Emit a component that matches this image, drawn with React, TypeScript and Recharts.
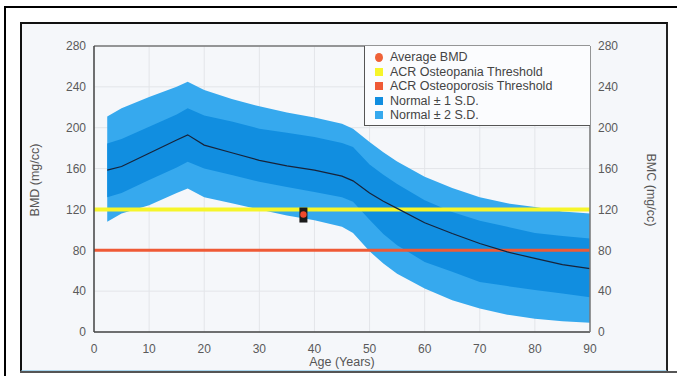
import React from "react";
import { CartesianGrid, ComposedChart, Area, Line, Scatter, XAxis, YAxis, ReferenceLine, Label } from "recharts";

// ages (years) and the reference bands (mg/cc)
const ages = [2.4, 5, 10, 15, 17, 20, 25, 30, 35, 40, 45, 47, 50, 52.5, 55, 60, 65, 70, 75, 80, 85, 90];
const meanBmd = [158.5, 162, 175, 188, 193, 183, 175.5, 168, 162.7, 158.5, 152.6, 148, 136, 128, 121, 107, 96.4, 86.6, 78.4, 72, 66, 62];
const plus1Sd = [184.6, 189, 201, 213, 219, 212, 206, 199, 195, 191, 185, 181, 164, 154, 145, 129, 117.6, 109, 103, 97, 94, 91.5];
const minus1Sd = [132, 136, 148.7, 161, 166.7, 160, 153.6, 147, 142, 137, 132, 127.5, 110, 96, 85, 68.6, 59, 49, 45, 41, 37.6, 34];
const plus2Sd = [211, 219, 230, 240, 245, 237, 228, 221, 215, 210, 204, 199, 186, 176, 167, 152, 141, 132, 126, 122.5, 118, 116];
const minus2Sd = [108, 116, 124, 136, 140.5, 132, 126, 120, 114, 109.5, 103, 97, 79, 67, 57, 42.5, 31, 23, 17, 13, 10.5, 9];

const patientAge = [38];
const patientBmd = [115];

const osteopeniaThreshold = 120;
const osteoporosisThreshold = 80;

const xTicks = [0, 10, 20, 30, 40, 50, 60, 70, 80, 90];
const yTicks = [0, 40, 80, 120, 160, 200, 240, 280];

const legendItems = [
  { name: "Average BMD", color: "#ef6238", round: true },
  { name: "ACR Osteopania Threshold", color: "#f6f52a", round: false },
  { name: "ACR Osteoporosis Threshold", color: "#ef5a36", round: false },
  { name: "Normal \u00b1 1 S.D.", color: "#118ee0", round: false },
  { name: "Normal \u00b1 2 S.D.", color: "#36a9ee", round: false },
];

const rows = ages.map((age, i) => ({
  age,
  mean: meanBmd[i],
  sd1: [minus1Sd[i], plus1Sd[i]],
  sd2: [minus2Sd[i], plus2Sd[i]],
}));
const patient = patientAge.map((age, i) => ({ age, bmd: patientBmd[i] }));

const font = '"Liberation Sans", Arial, sans-serif';
const tickStyle = { fill: "#5a5a5a", fontSize: 12, fontFamily: font };

function PatientMark(props: any) {
  const { cx, cy } = props;
  return (
    <g>
      <rect x={cx - 4} y={cy - 7} width={8} height={15} fill="#1a1a1a" />
      <circle cx={cx} cy={cy} r={3.2} fill="#ef4a2e" />
    </g>
  );
}

function LegendBox() {
  return (
    <div
      style={{
        position: "absolute",
        left: 364,
        top: 46,
        width: 226,
        height: 80,
        borderLeft: "1.5px solid #555",
        borderBottom: "1.5px solid #555",
        background: "#fbfcfe",
        paddingTop: 4,
        boxSizing: "border-box",
        fontFamily: font,
        fontSize: 12.5,
        color: "#444",
      }}
    >
      {legendItems.map((it) => (
        <div key={it.name} style={{ display: "flex", alignItems: "center", height: 14.5, paddingLeft: 10 }}>
          <span
            style={{
              display: "inline-block",
              width: 8,
              height: it.round ? 9 : 8,
              borderRadius: it.round ? "50%" : 0,
              background: it.color,
              marginRight: 7,
            }}
          />
          <span style={{ whiteSpace: "nowrap" }}>{it.name}</span>
        </div>
      ))}
    </div>
  );
}

export default function App() {
  return (
    <div style={{ position: "absolute", left: 0, top: 0, width: 677, height: 376, background: "#fff", overflow: "hidden" }}>
      <div style={{ position: "absolute", left: 4, top: 6, width: 700, height: 400, borderTop: "2px solid #000", borderLeft: "2px solid #000" }} />
      <div
        style={{
          position: "absolute",
          left: 20,
          top: 22,
          width: 644,
          height: 346,
          borderTop: "2px solid #111",
          borderLeft: "2px solid #111",
          borderRight: "2px solid #222",
          borderBottom: "2px solid #a9d6ee",
          background: "#f5f7fa",
        }}
      />
      <div style={{ position: "absolute", left: 20, top: 371, width: 660, height: 2, background: "#555" }} />
      <div style={{ position: "absolute", left: 0, top: 0 }}>
        <ComposedChart width={677} height={376} data={rows} margin={{ top: 46, right: 27, left: 34, bottom: 0 }}>
          <CartesianGrid stroke="#e3e5e9" strokeWidth={1} />
          <XAxis
            dataKey="age"
            type="number"
            domain={[0, 90]}
            ticks={xTicks}
            tickLine={false}
            axisLine={{ stroke: "#444", strokeWidth: 1.5 }}
            tick={{ ...tickStyle, dy: 4 }}
            height={44}
          >
            <Label
              content={(p: any) => (
                <text x={p.viewBox.x + p.viewBox.width / 2} y={366} textAnchor="middle" fill="#555" fontSize={12.5} fontFamily={font}>
                  Age (Years)
                </text>
              )}
            />
          </XAxis>
          <YAxis
            type="number"
            domain={[0, 280]}
            ticks={yTicks}
            tickLine={false}
            axisLine={{ stroke: "#444", strokeWidth: 1.5 }}
            tick={tickStyle}
            width={60}
          >
            <Label
              content={() => (
                <text x={36} y={180} transform="rotate(-90 36 180)" textAnchor="middle" dominantBaseline="middle" fill="#555" fontSize={12.5} fontFamily={font}>
                  BMD (mg/cc)
                </text>
              )}
            />
          </YAxis>
          <YAxis
            yAxisId="right"
            orientation="right"
            type="number"
            domain={[0, 280]}
            ticks={yTicks}
            tickLine={false}
            axisLine={{ stroke: "#777", strokeWidth: 1.5 }}
            tick={tickStyle}
            width={60}
          >
            <Label
              content={() => (
                <text x={650} y={190} transform="rotate(90 650 190)" textAnchor="middle" dominantBaseline="middle" fill="#555" fontSize={12.5} fontFamily={font}>
                  BMC (mg/cc)
                </text>
              )}
            />
          </YAxis>
          <ReferenceLine y={280} stroke="#777" strokeWidth={1.5} />
          <Area dataKey="sd2" type="linear" stroke="none" fill="#36a9ee" fillOpacity={1} isAnimationActive={false} />
          <Area dataKey="sd1" type="linear" stroke="none" fill="#118ee0" fillOpacity={1} isAnimationActive={false} />
          <ReferenceLine y={osteopeniaThreshold} stroke="#f6f52a" strokeWidth={4} />
          <ReferenceLine y={osteoporosisThreshold} stroke="#ef5a36" strokeWidth={3} />
          <Line dataKey="mean" type="linear" stroke="#17233a" strokeWidth={1.2} dot={false} isAnimationActive={false} />
          <Line yAxisId="right" dataKey="mean" stroke="none" strokeOpacity={0} dot={false} activeDot={false} isAnimationActive={false} />
          <Scatter data={patient} dataKey="bmd" shape={PatientMark} isAnimationActive={false} />
        </ComposedChart>
      </div>
      <LegendBox />
    </div>
  );
}
